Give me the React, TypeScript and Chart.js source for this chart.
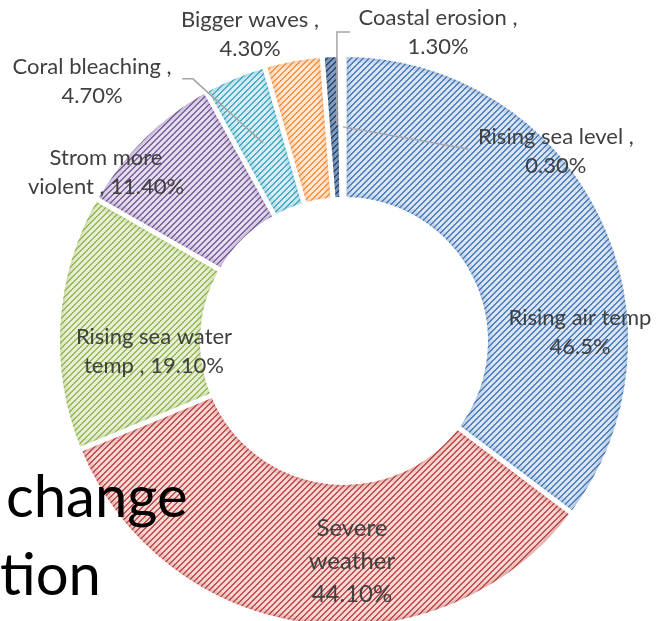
import React, { useEffect, useRef } from "react";
import { Chart, registerables } from "chart.js";

Chart.register(...registerables);

// ---- data ----
const categories = [
  "Rising air temp",
  "Severe weather",
  "Rising sea water temp",
  "Strom more violent",
  "Coral bleaching",
  "Bigger waves",
  "Coastal erosion",
  "Rising sea level",
];
const values = [46.5, 44.1, 19.1, 11.4, 4.7, 4.3, 1.3, 0.3];
const labelTexts: string[][] = [
  ["Rising air temp", "46.5%"],
  ["Severe", "weather", "44.10%"],
  ["Rising sea water", "temp , 19.10%"],
  ["Strom more", "violent , 11.40%"],
  ["Coral bleaching ,", "4.70%"],
  ["Bigger waves ,", "4.30%"],
  ["Coastal erosion ,", "1.30%"],
  ["Rising sea level ,", "0.30%"],
];
const backgroundText = ["change", "tion"];

// ---- styles / layout ----
const stripeColors = ["#4F81BD", "#C0504D", "#9BBB59", "#8064A2", "#4BACC6", "#F79646", "#2C4D75", "#772C2A"];
const fillColors = ["#DAE3F1", "#F3D5D4", "#E7EFD9", "#E2DCEA", "#D7EDF3", "#FDE7D5", "#8EA4C2", "#C99A98"];
// label block centres, as fractions of the visible outer radius, relative to the doughnut centre
const labelPos: [number, number][] = [
  [0.831, -0.032],
  [0.028, 0.775],
  [-0.669, 0.035],
  [-0.838, -0.592],
  [-0.887, -0.915],
  [-0.331, -1.078],
  [0.331, -1.088],
  [0.746, -0.669],
];
const labelFont = [22, 24, 22, 22, 22, 22, 22, 22];
const labelLine = [29, 33, 29, 29, 29, 29, 29, 29];
const leaderLines: [number, number][][] = [
  [[-0.570, -0.923], [-0.532, -0.923], [-0.285, -0.697]],
  [[0.021, -1.088], [-0.025, -1.088], [-0.025, -0.761]],
  [[-0.004, -0.754], [0.437, -0.676]],
];

function makePattern(bg: string, fg: string): CanvasPattern | string {
  const T = 6;
  const c = document.createElement("canvas");
  c.width = T;
  c.height = T;
  const x = c.getContext("2d");
  if (!x) return fg;
  x.fillStyle = bg;
  x.fillRect(0, 0, T, T);
  x.fillStyle = fg;
  for (let i = 0; i < T; i++) {
    for (let j = 0; j < T; j++) {
      if ((i + j) % T < 2) x.fillRect(i, j, 1, 1);
    }
  }
  return x.createPattern(c, "repeat") || fg;
}

const BORDER = 5;

const labelPlugin = {
  id: "sliceLabels",
  afterDatasetsDraw(chart: any) {
    const ctx: CanvasRenderingContext2D = chart.ctx;
    const meta = chart.getDatasetMeta(0);
    const arc0: any = meta.data[0];
    if (!arc0) return;

    // soft shaded edge inside each slice
    meta.data.forEach((el: any, i: number) => {
      const { x, y, startAngle, endAngle, innerRadius, outerRadius } = el.getProps(
        ["x", "y", "startAngle", "endAngle", "innerRadius", "outerRadius"],
        true
      );
      const ro = outerRadius - BORDER / 2;
      const ri = innerRadius + BORDER / 2;
      const dO = BORDER / 2 / ro;
      const dI = BORDER / 2 / ri;
      if (endAngle - startAngle <= 2 * dI + 0.01) return;
      ctx.save();
      ctx.beginPath();
      ctx.arc(x, y, ro, startAngle + dO, endAngle - dO);
      ctx.arc(x, y, ri, endAngle - dI, startAngle + dI, true);
      ctx.closePath();
      ctx.clip();
      ctx.strokeStyle = stripeColors[i];
      ctx.globalAlpha = 0.12;
      ctx.lineWidth = 10;
      ctx.stroke();
      ctx.globalAlpha = 0.16;
      ctx.lineWidth = 4;
      ctx.stroke();
      ctx.restore();
    });

    const cx = arc0.x;
    const cy = arc0.y;
    const R = arc0.outerRadius - BORDER / 2;
    ctx.save();
    ctx.strokeStyle = "#A6A6A6";
    ctx.lineWidth = 1.5;
    for (const pts of leaderLines) {
      ctx.beginPath();
      pts.forEach(([fx, fy], k) => {
        const px = cx + fx * R;
        const py = cy + fy * R;
        if (k === 0) ctx.moveTo(px, py);
        else ctx.lineTo(px, py);
      });
      ctx.stroke();
    }
    ctx.fillStyle = "#404040";
    ctx.textAlign = "center";
    ctx.textBaseline = "middle";
    labelTexts.forEach((lines, i) => {
      const [fx, fy] = labelPos[i];
      const x = cx + fx * R;
      const y = cy + fy * R;
      ctx.font = `${labelFont[i]}px Lato`;
      const lh = labelLine[i];
      lines.forEach((t, k) => {
        ctx.fillText(t, x, y + (k - (lines.length - 1) / 2) * lh);
      });
    });
    ctx.restore();
  },
};

export default function App() {
  const ref = useRef<HTMLCanvasElement | null>(null);
  useEffect(() => {
    if (!ref.current) return;
    const patterns = stripeColors.map((fg, i) => makePattern(fillColors[i], fg));
    const chart = new Chart(ref.current, {
      type: "doughnut",
      data: {
        labels: categories,
        datasets: [
          {
            data: values,
            backgroundColor: patterns as any,
            hoverBackgroundColor: patterns as any,
            borderColor: "#FFFFFF",
            hoverBorderColor: "#FFFFFF",
            borderWidth: BORDER,
            hoverBorderWidth: BORDER,
          },
        ],
      },
      options: {
        animation: false,
        responsive: false,
        cutout: "49.4%",
        layout: { padding: { left: 55, top: 52, right: 23, bottom: 52 } },
        plugins: {
          legend: { display: false },
          title: { display: false },
          tooltip: { enabled: false },
        },
        events: [],
      },
      plugins: [labelPlugin],
    });
    return () => chart.destroy();
  }, []);

  return (
    <div
      style={{
        position: "absolute",
        left: 0,
        top: 0,
        width: 656,
        height: 621,
        overflow: "hidden",
        background: "#FFFFFF",
      }}
    >
      <canvas ref={ref} width={656} height={682} style={{ position: "absolute", left: 0, top: 0 }} />
      <div
        style={{
          position: "absolute",
          left: 6,
          top: 456,
          fontFamily: "Lato",
          fontSize: 58,
          lineHeight: "78px",
          color: "#000000",
          whiteSpace: "pre",
        }}
      >
        <div>{backgroundText[0]}</div>
        <div style={{ marginLeft: -6 }}>{backgroundText[1]}</div>
      </div>
    </div>
  );
}
